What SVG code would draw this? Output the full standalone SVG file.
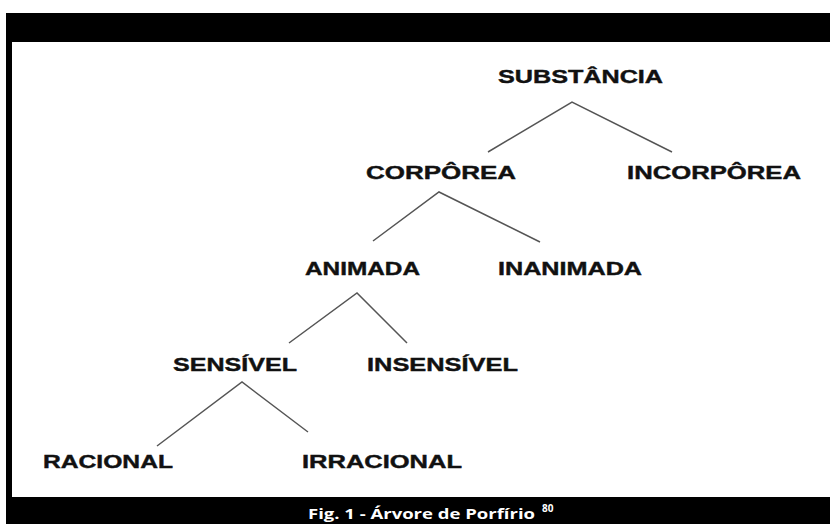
<svg xmlns="http://www.w3.org/2000/svg" width="830" height="524" viewBox="0 0 830 524">
<style>
.lbl{font-family:"Liberation Sans",Arial,sans-serif;font-weight:bold;font-size:18px;fill:#111;stroke:#111;stroke-width:0.4;}
.cap{font-family:"Open Sans","Liberation Sans",sans-serif;font-weight:bold;fill:#fff;}
.edge{stroke:#555;stroke-width:1.5;fill:none;}
</style>
<rect x="0" y="0" width="830" height="524" fill="#fff"/>
<g id="frame">
<rect x="6" y="13" width="824" height="29" fill="#000"/>
<rect x="6" y="13" width="6" height="511" fill="#000"/>
<rect x="6" y="497" width="824" height="27" fill="#000"/>
</g>
<g id="connectors">
<polyline class="edge" points="488,152 572,102 672,152"/>
<polyline class="edge" points="373,241 439,192 540,242"/>
<polyline class="edge" points="289,343 357,293 407,343"/>
<polyline class="edge" points="157,446 242,382 308,432"/>
</g>
<g id="substancia"><text class="lbl" x="498" y="83" textLength="165" lengthAdjust="spacingAndGlyphs">SUBSTÂNCIA</text></g>
<g id="corporea"><text class="lbl" x="366" y="179" textLength="150" lengthAdjust="spacingAndGlyphs">CORPÔREA</text></g>
<g id="incorporea"><text class="lbl" x="627" y="179" textLength="174" lengthAdjust="spacingAndGlyphs">INCORPÔREA</text></g>
<g id="animada"><text class="lbl" x="305" y="275" textLength="115" lengthAdjust="spacingAndGlyphs">ANIMADA</text></g>
<g id="inanimada"><text class="lbl" x="498" y="275" textLength="144" lengthAdjust="spacingAndGlyphs">INANIMADA</text></g>
<g id="sensivel"><text class="lbl" x="173" y="371" textLength="124" lengthAdjust="spacingAndGlyphs">SENSÍVEL</text></g>
<g id="insensivel"><text class="lbl" x="367" y="371" textLength="151" lengthAdjust="spacingAndGlyphs">INSENSÍVEL</text></g>
<g id="racional"><text class="lbl" x="43" y="468" textLength="130" lengthAdjust="spacingAndGlyphs">RACIONAL</text></g>
<g id="irracional"><text class="lbl" x="302" y="468" textLength="160" lengthAdjust="spacingAndGlyphs">IRRACIONAL</text></g>
<g id="caption">
<text class="cap" x="308" y="519" font-size="14" textLength="227" lengthAdjust="spacingAndGlyphs">Fig. 1 - Árvore de Porfírio</text>
<text class="cap" x="542" y="512" font-size="10">80</text>
</g>
</svg>
